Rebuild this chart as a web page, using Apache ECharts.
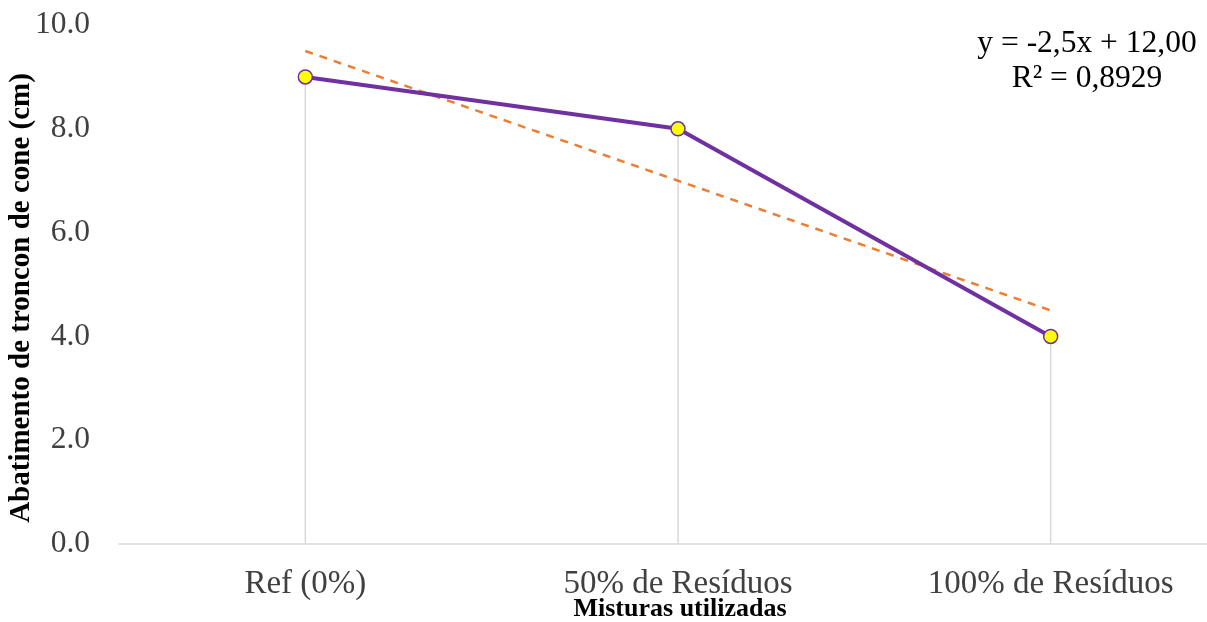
<!DOCTYPE html>
<html>
<head>
<meta charset="utf-8">
<script src="https://cdn.jsdelivr.net/npm/echarts@6/dist/echarts.min.js"></script>
<style>html,body{margin:0;padding:0;background:#fff;}#c{width:1207px;height:622px;}</style>
</head>
<body>
<div id="c"></div>
<script>
const categories = ['Ref (0%)', '50% de Resíduos', '100% de Resíduos'];
const abatimento = [9.0, 8.0, 4.0];
const trendValues = [9.5, 7.0, 4.5];
const equationLines = ['y = -2,5x + 12,00', 'R² = 0,8929'];
const yTicks = { min: 0, max: 10, interval: 2 };
const yTitle = 'Abatimento de troncon de cone (cm)';
const xTitle = 'Misturas utilizadas';

const FONT = '"Liberation Serif", "Times New Roman", serif';
const chart = echarts.init(document.getElementById('c'), null, { renderer: 'canvas' });
chart.setOption({
  animation: false,
  backgroundColor: '#ffffff',
  grid: { left: 119, width: 1118, top: 25, height: 519, containLabel: false, outerBoundsMode: 'none' },
  xAxis: {
    type: 'category',
    data: categories,
    boundaryGap: true,
    axisLine: { show: true, lineStyle: { color: '#d9d9d9', width: 1.5 } },
    axisTick: { show: false },
    axisLabel: { color: '#404040', fontFamily: FONT, fontSize: 33, margin: 24 }
  },
  yAxis: {
    type: 'value',
    min: yTicks.min, max: yTicks.max, interval: yTicks.interval,
    axisLine: { show: false },
    axisTick: { show: false },
    splitLine: { show: false },
    axisLabel: { color: '#404040', fontFamily: FONT, fontSize: 31.5, margin: 29, formatter: v => v.toFixed(1) }
  },
  series: [
    {
      type: 'bar',
      data: abatimento,
      barWidth: 1.5,
      itemStyle: { color: '#d9d9d9' },
      silent: true,
      z: 1
    },
    {
      type: 'line',
      data: trendValues,
      symbol: 'none',
      lineStyle: { color: '#ED7D31', width: 2.5, type: [8, 7] },
      z: 2
    },
    {
      type: 'line',
      data: abatimento,
      symbol: 'circle',
      symbolSize: 14,
      showSymbol: true,
      lineStyle: { color: '#7030A0', width: 4 },
      itemStyle: { color: '#FFFF00', borderColor: '#7030A0', borderWidth: 1.5 },
      z: 3
    }
  ],
  graphic: [
    {
      type: 'text', x: 1087, y: 44,
      style: { text: equationLines[0], textAlign: 'center', textVerticalAlign: 'middle', fontFamily: FONT, fontSize: 31.5, fill: '#000' }
    },
    {
      type: 'text', x: 1087, y: 79,
      style: { text: equationLines[1], textAlign: 'center', textVerticalAlign: 'middle', fontFamily: FONT, fontSize: 31.5, fill: '#000' }
    },
    {
      type: 'text', x: 22, y: 298, rotation: Math.PI / 2,
      style: { text: yTitle, textAlign: 'center', textVerticalAlign: 'middle', fontFamily: FONT, fontWeight: 'bold', fontSize: 29, fill: '#000' }
    },
    {
      type: 'text', x: 680, y: 609,
      style: { text: xTitle, textAlign: 'center', textVerticalAlign: 'middle', fontFamily: FONT, fontWeight: 'bold', fontSize: 26, fill: '#000' }
    }
  ]
});
</script>
</body>
</html>
